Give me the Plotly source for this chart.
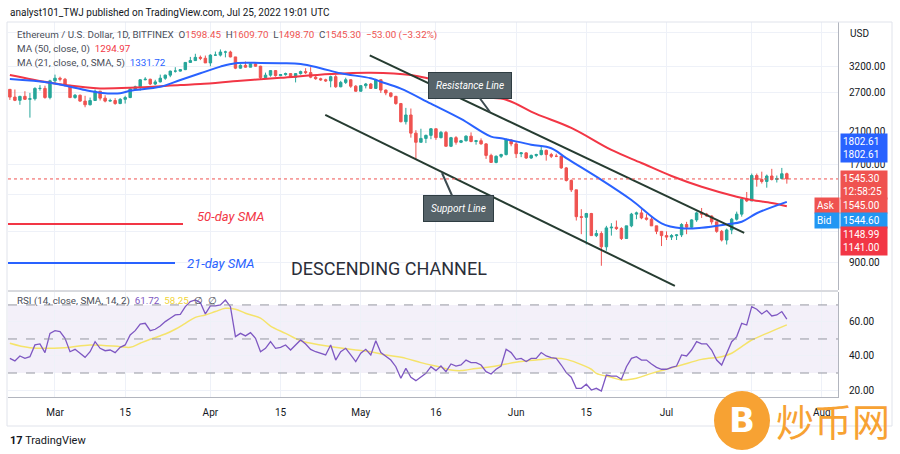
import pandas as pd
import plotly.graph_objects as go

# ---------------- data ----------------
start_date = "2022-02-20"
opens = [2763,2628,2573,2640,2590,2600,2780,2780,2620,
         2920,2970,2950,2835,2620,2660,2560,2500,2570,2730,2610,2560,2570,2520,2590,2620,2770,2810,2940,2950,2860,2900,2970,3030,3110,3110,3140,3290,3330,3400,3380,
         3280,3450,3450,3520,3520,3410,3170,3230,3190,3260,3210,2980,3030,3120,3020,3040,3060,2990,3060,3100,3080,2990,2960,2940,2920,3000,2810,2890,2940,2820,
         2730,2830,2860,2780,2940,2750,2700,2640,2520,2240,2340,2080,1960,2010,2050,2140,2020,2090,1910,2020,1960,1980,2040,1970,1980,1940,1800,1720,1790,1810,1990,
         1940,1820,1830,1770,1800,1810,1860,1810,1790,1790,1660,1530,1440,1210,1205,1235,1070,1085,995,1125,1130,1120,1050,1140,1230,1240,1200,1190,1140,1100,
         1070,1060,1070,1075,1150,1130,1185,1240,1230,1215,1170,1100,1040,1110,1190,1230,1355,1340,1580,1540,1520,1575,1540,1550,1598.45]
highs = [2766,2760,2650,2730,2700,2800,2840,2830,2940,
         3040,3000,2975,2840,2680,2670,2650,2620,2760,2735,2660,2600,2610,2610,2650,2780,2830,2950,2990,2960,2940,3040,3040,3120,3190,3150,3300,3410,3480,3440,3440,
         3470,3530,3580,3550,3550,3410,3250,3310,3270,3300,3220,3080,3130,3130,3050,3080,3070,3070,3120,3170,3190,3030,2980,2960,3020,3030,2920,2980,2950,2840,
         2840,2880,2880,2960,2950,2760,2710,2650,2530,2450,2440,2120,2140,2060,2150,2140,2110,2110,2030,2040,1990,2050,2090,1990,2010,1950,1820,1800,1820,2010,2000,
         1970,1840,1840,1810,1820,1920,1870,1830,1820,1790,1670,1540,1440,1270,1240,1240,1110,1100,1140,1160,1180,1130,1140,1240,1250,1270,1230,1210,1140,1100,
         1100,1080,1080,1160,1170,1190,1250,1280,1240,1220,1170,1110,1120,1200,1250,1360,1420,1600,1600,1620,1590,1650,1580,1660,1609.70]
lows = [2580,2560,2500,2580,2300,2570,2740,2600,2590,
        2880,2910,2810,2610,2600,2550,2460,2490,2570,2570,2540,2550,2500,2510,2520,2610,2760,2740,2930,2840,2840,2890,2940,2990,3080,3100,3130,3290,3320,3340,3280,
        3210,3440,3420,3400,3400,3150,3160,3180,3190,3200,2950,2960,3000,3000,3010,3020,2990,2890,3040,3050,2970,2940,2920,2900,2800,2790,2800,2860,2790,2720,
        2720,2780,2770,2770,2700,2660,2620,2500,2230,2200,2020,1750,1960,1950,2000,1990,2010,1910,1900,1930,1950,1970,1960,1930,1930,1760,1720,1710,1770,1800,1910,
        1770,1780,1760,1760,1780,1800,1740,1770,1780,1650,1520,1420,1180,1080,1010,1070,1060,880,970,1070,1110,1040,1050,1130,1190,1190,1180,1140,1080,1000,
        1040,1040,1040,1060,1080,1120,1170,1200,1210,1150,1090,1030,1010,1080,1180,1210,1330,1340,1470,1500,1460,1530,1510,1540,1498.70]
closes = [2628,2573,2640,2590,2600,2780,2780,2620,2920,
          2970,2950,2835,2620,2660,2560,2500,2570,2730,2610,2560,2570,2520,2590,2620,2770,2810,2940,2950,2860,2900,2970,3030,3110,3110,3140,3290,3330,3400,3380,3280,
          3450,3450,3520,3520,3410,3170,3230,3190,3260,3210,2980,3030,3120,3020,3040,3060,2990,3060,3100,3080,2990,2960,2940,2920,3000,2810,2890,2940,2820,2730,
          2830,2860,2780,2940,2750,2700,2640,2520,2240,2340,2080,1960,2010,2050,2140,2020,2090,1910,2020,1960,1980,2040,1970,1980,1940,1800,1720,1790,1810,1990,1940,
          1820,1830,1770,1800,1810,1860,1810,1790,1790,1660,1530,1440,1210,1205,1235,1070,1085,995,1125,1130,1120,1050,1140,1230,1240,1200,1190,1140,1100,1070,
          1060,1070,1075,1150,1130,1185,1240,1230,1215,1170,1100,1040,1110,1190,1230,1355,1340,1580,1540,1520,1575,1540,1550,1598,1545.30]

ma50_dates = ["2022-02-20","2022-02-28","2022-03-07","2022-03-10","2022-03-16","2022-03-26","2022-03-30","2022-04-07",
              "2022-04-15","2022-04-25","2022-05-03","2022-05-11","2022-05-17","2022-05-25","2022-05-30","2022-06-05",
              "2022-06-12","2022-06-20","2022-06-26","2022-07-02","2022-07-08","2022-07-15","2022-07-18","2022-07-22","2022-07-25"]
ma50_vals = [3033,2885,2799,2780,2791,2841,2860,2922,2978,3052,3078,3033,2904,2635,2583,2356,2152,1865,1714,1575,
             1469,1377,1348,1322,1294.97]

ma21_dates = ["2022-02-20","2022-02-28","2022-03-07","2022-03-10","2022-03-14","2022-03-16","2022-03-22","2022-03-26",
              "2022-03-30","2022-04-03","2022-04-06","2022-04-11","2022-04-15","2022-04-19","2022-04-23","2022-04-27",
              "2022-05-03","2022-05-05","2022-05-09","2022-05-15","2022-05-21","2022-05-27","2022-05-29","2022-06-04",
              "2022-06-08","2022-06-11","2022-06-18","2022-06-24","2022-06-30","2022-07-04","2022-07-08","2022-07-13",
              "2022-07-16","2022-07-19","2022-07-25"]
ma21_vals = [2955,2885,2752,2704,2694,2739,2810,2936,3067,3202,3274,3280,3274,3259,3170,3067,2969,2904,2777,2518,
             2281,2033,2012,1930,1886,1769,1536,1348,1159,1122,1126,1151,1171,1237,1331.72]

rsi_vals = [38.6,37.1,40.0,38.6,39.6,46.5,47.1,42.0,53.3,
            54.9,54.3,50.4,42.5,43.9,41.6,39.2,42.5,48.4,44.5,43.1,43.5,42.0,45.1,46.5,52.4,54.9,58.8,59.2,54.9,55.7,57.6,60.2,62.2,64.1,64.5,69.0,72.0,72.9,71.4,64.7,
            69.4,69.4,70.0,72.9,69.0,51.4,53.3,51.8,53.7,50.4,42.5,44.5,48.4,44.5,45.1,46.5,43.5,46.5,49.4,
            47.0,43.9,42.5,41.6,40.6,46.5,37.6,42.5,44.5,40.6,36.7,
            41.6,43.9,40.6,49.0,42.0,40.0,37.6,33.7,26.9,32.7,27.5,25.5,27.5,29.8,33.7,31.4,34.1,30.8,35.3,34.1,34.7,37.6,36.1,36.1,34.7,30.8,29.4,32.2,34.1,43.9,42.0,
            38.0,38.6,36.7,38.6,38.6,42.0,40.0,39.0,38.6,34.7,30.2,27.5,21.0,21.0,23.4,20.0,21.0,19.4,28.8,28.2,28.2,26.3,33.7,38.6,39.6,37.6,37.6,35.3,33.3,32.2,
            32.2,33.3,34.1,40.6,40.0,43.5,48.4,47.1,47.1,43.5,37.6,34.7,41.6,48.4,51.4,59.2,58.2,69.0,67.5,64.7,66.7,63.5,64.1,66.1,61.72]

rsima_dates = ["2022-02-20","2022-02-24","2022-03-03","2022-03-08","2022-03-14","2022-03-16","2022-03-18","2022-03-20",
               "2022-03-23","2022-03-25","2022-03-27","2022-03-29","2022-03-31","2022-04-02","2022-04-04","2022-04-06",
               "2022-04-08","2022-04-11","2022-04-13","2022-04-16","2022-04-19","2022-04-23","2022-04-30","2022-05-03",
               "2022-05-06","2022-05-10","2022-05-13","2022-05-17","2022-05-19","2022-05-21","2022-05-24","2022-05-27",
               "2022-05-30","2022-06-02","2022-06-05","2022-06-09","2022-06-11","2022-06-13","2022-06-16","2022-06-17",
               "2022-06-20","2022-06-22","2022-06-25","2022-06-28","2022-07-01","2022-07-04","2022-07-08","2022-07-12",
               "2022-07-14","2022-07-16","2022-07-18","2022-07-21","2022-07-25"]
rsima_vals = [47.5,44.9,44.9,46.5,45.5,45.1,47.5,49.8,52.9,55.7,59.2,62.7,64.1,66.1,68.0,67.5,65.1,62.2,57.6,53.3,
              49.0,46.5,43.5,42.5,40.6,38.6,36.1,33.3,31.8,31.4,32.7,33.7,35.3,36.7,37.6,38.6,38.0,36.1,32.2,29.8,
              27.5,25.9,26.9,29.8,32.2,34.7,38.0,39.6,41.6,45.5,49.4,53.3,58.25]

resistance_dates = ["2022-05-02 19:00", "2022-07-16 12:00"]
resistance_prices = [3444, 1089]
support_dates = ["2022-04-23 22:00", "2022-07-02 16:00"]
support_prices = [2340, 772]

last_price = 1545.30
price_ticks = [900, 1100, 1400, 1700, 2100, 2700, 3200, 4000]
price_ticktext = ["900.00", "", "", "1700.00", "2100.00", "2700.00", "3200.00", ""]
rsi_ticks = [20, 40, 60]
rsi_levels = [30, 50, 70]
time_ticks = ["2022-03-01","2022-03-15","2022-04-01","2022-04-15","2022-05-01","2022-05-16",
              "2022-06-01","2022-06-15","2022-07-01","2022-07-18","2022-08-01"]
time_ticktext = ["Mar","15","Apr","15","May","16","Jun","15","Jul","18","Aug"]

hdr_ohlc = ["1598.45", "1609.70", "1498.70", "1545.30"]
hdr_change = "−53.00 (−3.32%)"
ma50_last, ma21_last = "1294.97", "1331.72"
rsi_last, rsima_last = "61.72", "58.25"

# ---------------- colours ----------------
UP, DOWN = "#26a69a", "#ef5350"
RED_MA, BLUE_MA = "#f23645", "#2962ff"
RSI_C, RSIMA_C = "#7e57c2", "#f5e36a"
GRID = "#eef1f8"
TXT = "#131722"
FONT = "Roboto"

dates = pd.date_range(start_date, periods=len(closes), freq="D")

# pixel -> paper helpers (plot area: x 8..838, y 22..397)
L, R, T, B = 8, 838, 22, 397
def px(x):
    return (x - L) / (R - L)
def py(y):
    return (B - y) / (B - T)

fig = go.Figure()
fig.add_trace(go.Candlestick(
    x=dates, open=opens, high=highs, low=lows, close=closes,
    increasing=dict(line=dict(color=UP, width=1), fillcolor=UP),
    decreasing=dict(line=dict(color=DOWN, width=1), fillcolor=DOWN),
    whiskerwidth=0, showlegend=False, hoverinfo="skip", xaxis="x", yaxis="y"))
fig.add_trace(go.Scatter(x=ma50_dates, y=ma50_vals, mode="lines", line=dict(color=RED_MA, width=2, shape="spline"),
                         showlegend=False, hoverinfo="skip", xaxis="x", yaxis="y"))
fig.add_trace(go.Scatter(x=ma21_dates, y=ma21_vals, mode="lines", line=dict(color=BLUE_MA, width=2, shape="spline"),
                         showlegend=False, hoverinfo="skip", xaxis="x", yaxis="y"))
for dd, pp in [(resistance_dates, resistance_prices), (support_dates, support_prices)]:
    fig.add_trace(go.Scatter(x=dd, y=pp, mode="lines", line=dict(color="#263c31", width=2),
                             showlegend=False, hoverinfo="skip", xaxis="x", yaxis="y"))
fig.add_trace(go.Scatter(x=rsima_dates, y=rsima_vals, mode="lines", line=dict(color=RSIMA_C, width=1.5, shape="spline"),
                         showlegend=False, hoverinfo="skip", xaxis="x", yaxis="y2"))
fig.add_trace(go.Scatter(x=dates, y=rsi_vals, mode="lines", line=dict(color=RSI_C, width=1.3),
                         showlegend=False, hoverinfo="skip", xaxis="x", yaxis="y2"))

shapes = []
shapes.append(dict(type="rect", xref="paper", yref="y2", x0=0, x1=1, y0=rsi_levels[0], y1=rsi_levels[2],
                   fillcolor="rgba(126,87,194,0.09)", line=dict(width=0), layer="below"))
for lv in rsi_levels:
    shapes.append(dict(type="line", xref="paper", yref="y2", x0=0, x1=1, y0=lv, y1=lv,
                       line=dict(color="#9598a1", width=1, dash="dash")))
shapes.append(dict(type="line", xref="paper", yref="y", x0=0, x1=1, y0=last_price, y1=last_price,
                   line=dict(color=DOWN, width=1, dash="dot")))
shapes.append(dict(type="line", xref="paper", yref="paper", x0=0, x1=1, y0=py(291), y1=py(291),
                   line=dict(color="#b2b5be", width=1)))
shapes.append(dict(type="rect", xref="paper", yref="paper", x0=px(7), x1=px(892), y0=py(22), y1=py(426),
                   line=dict(color="#e0e3eb", width=1)))
shapes.append(dict(type="line", xref="paper", yref="paper", x0=px(8), x1=px(183), y0=py(224), y1=py(224),
                   line=dict(color=RED_MA, width=2)))
shapes.append(dict(type="line", xref="paper", yref="paper", x0=px(8), x1=px(175), y0=py(263), y1=py(263),
                   line=dict(color=BLUE_MA, width=2)))
shapes.append(dict(type="circle", xref="paper", yref="paper", x0=px(714), x1=px(770), y0=py(391), y1=py(450),
                   fillcolor="#f7a233", line=dict(width=0)))

ann = []
def text(x, y, s, size=10, color=TXT, xanchor="left", **kw):
    ann.append(dict(xref="paper", yref="paper", x=px(x), y=py(y), text=s, showarrow=False,
                    xanchor=xanchor, yanchor="middle", font=dict(family=kw.pop("family", FONT), size=size, color=color), **kw))

text(8, 12, "analyst101_TWJ published on TradingView.com, Jul 25, 2022 19:01 UTC", size=10, color=TXT)
sp = lambda c, s: f"<span style='color:{c}'>{s}</span>"
line1 = ("Ethereum / U.S. Dollar, 1D, BITFINEX\u00a0 O" + sp(DOWN, hdr_ohlc[0]) + "\u00a0 H" + sp(DOWN, hdr_ohlc[1]) +
         "\u00a0 L" + sp(DOWN, hdr_ohlc[2]) + "\u00a0 C" + sp(DOWN, hdr_ohlc[3]) + "\u00a0 " + sp(DOWN, hdr_change))
text(15, 35, line1, size=9.8, color="#4a4e59")
text(15, 49, "MA (50, close, 0)\u00a0 " + sp(RED_MA, ma50_last), size=9.8, color="#4a4e59")
text(15, 63, "MA (21, close, 0, SMA, 5)\u00a0 " + sp(BLUE_MA, ma21_last), size=9.8, color="#4a4e59")
text(15, 301, "RSI (14, close, SMA, 14, 2)\u00a0 " + sp(RSI_C, rsi_last) + "\u00a0 " + sp("#f0d43a", rsima_last) + "\u00a0 ∅\u00a0 ∅",
     size=9.8, color="#4a4e59")
text(848, 33, "USD", size=10, color=TXT)

text(195, 216, "<i>50-day SMA</i>", size=13, color=RED_MA)
text(185, 263, "<i>21-day SMA</i>", size=13, color=BLUE_MA)
text(289, 268, "DESCENDING CHANNEL", size=18, color="#2a2e39")

ann.append(dict(xref="paper", yref="paper", x=px(490), y=py(112), ax=-20, ay=-27, text="<i>Resistance Line</i>",
                showarrow=True, arrowhead=0, arrowwidth=2, arrowcolor="#3d4b50",
                bgcolor="#566369", bordercolor="#2f3d42", borderwidth=1, borderpad=7,
                font=dict(family=FONT, size=10, color="white")))
ann.append(dict(xref="paper", yref="paper", x=px(442), y=py(173), ax=16, ay=36, text="<i>Support Line</i>",
                showarrow=True, arrowhead=0, arrowwidth=2, arrowcolor="#3d4b50",
                bgcolor="#566369", bordercolor="#2f3d42", borderwidth=1, borderpad=7,
                font=dict(family=FONT, size=10, color="white")))

def tag(y, s, bg, x=840, w=42):
    ann.append(dict(xref="paper", yref="paper", x=px(x), y=py(y), text=s, showarrow=False, xanchor="left",
                    yanchor="middle", bgcolor=bg, borderpad=2, width=w, align="left",
                    font=dict(family=FONT, size=10, color="white")))
tag(148, "1802.61<br>1802.61", BLUE_MA)
tag(185, "1545.30<br>12:58:25", DOWN)
tag(205.5, "1545.00", DOWN)
tag(220, "1544.60", "#2196f3")
tag(241, "1148.99<br>1141.00", RED_MA)
tag(205.5, "Ask", DOWN, x=814, w=20)
tag(220, "Bid", "#2196f3", x=814, w=20)

text(742, 420, "<b>B</b>", size=34, color="white", xanchor="center", family="DejaVu Sans")
text(833, 419, "炒币网", size=38, color="#f7a233", xanchor="center", family="Noto Sans CJK SC")
text(8, 440, "<b>17</b> TradingView", size=11, color=TXT)

fig.update_layout(
    width=900, height=454, margin=dict(l=L, r=900 - R, t=T, b=454 - B),
    paper_bgcolor="white", plot_bgcolor="white", showlegend=False,
    shapes=shapes, annotations=ann,
    xaxis=dict(domain=[0, 1], anchor="y2", type="date", range=["2022-02-19 15:00", "2022-08-04 05:00"],
               tickvals=time_ticks, ticktext=time_ticktext, showgrid=True, gridcolor=GRID, gridwidth=1,
               showline=True, linecolor="#b2b5be", ticks="", tickfont=dict(family=FONT, size=10, color=TXT),
               rangeslider=dict(visible=False), zeroline=False, ticklabelstandoff=6),
    yaxis=dict(domain=[py(290), 1], anchor="x", type="log", side="right",
               range=[2.8762, 3.6311], tickvals=price_ticks, ticktext=price_ticktext,
               showgrid=True, gridcolor=GRID, showline=True, linecolor="#b2b5be", ticks="",
               tickfont=dict(family=FONT, size=10, color=TXT), zeroline=False, ticklabelstandoff=8),
    yaxis2=dict(domain=[0, py(292)], anchor="x", side="right", range=[15.9, 77.6],
                tickvals=rsi_ticks, ticktext=[f"{v:.2f}" for v in rsi_ticks],
                showgrid=True, gridcolor=GRID, showline=True, linecolor="#b2b5be", ticks="",
                tickfont=dict(family=FONT, size=10, color=TXT), zeroline=False, ticklabelstandoff=8),
)
fig.write_html("out.html", config={"displayModeBar": False, "staticPlot": True},
               post_script="document.body.style.margin='0';")
